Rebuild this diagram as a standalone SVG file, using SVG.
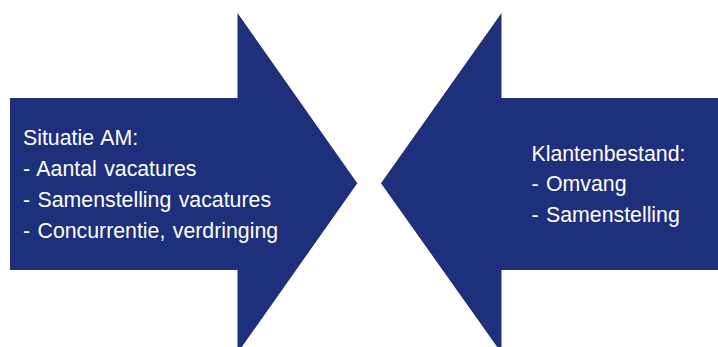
<svg xmlns="http://www.w3.org/2000/svg" width="718" height="347" viewBox="0 0 718 347">
<style>
.arrow{fill:#1E2F7C;}
.lbl{font-family:"Liberation Sans",Arial,sans-serif;font-size:21.3px;fill:#FFFFFF;word-spacing:1.5px;}
</style>
<rect width="718" height="347" fill="#FFFFFF"/>
<g id="connectors"></g>
<g id="node-situatie">
<polygon class="arrow" points="10,98 237.5,98 237.5,13 357.3,183.3 237.5,353 237.5,270 10,270"/>
<text class="lbl" x="23" y="145">Situatie AM:</text>
<text class="lbl" x="23" y="175.5">- Aantal vacatures</text>
<text class="lbl" x="23" y="206.5">- Samenstelling vacatures</text>
<text class="lbl" x="23" y="238">- Concurrentie, verdringing</text>
</g>
<g id="node-klantenbestand">
<polygon class="arrow" points="720,98 501.5,98 501.5,13 381,183.3 501.5,353 501.5,270 720,270"/>
<text class="lbl" x="531.5" y="161">Klantenbestand:</text>
<text class="lbl" x="531.5" y="191">- Omvang</text>
<text class="lbl" x="531.5" y="221.5">- Samenstelling</text>
</g>
</svg>
